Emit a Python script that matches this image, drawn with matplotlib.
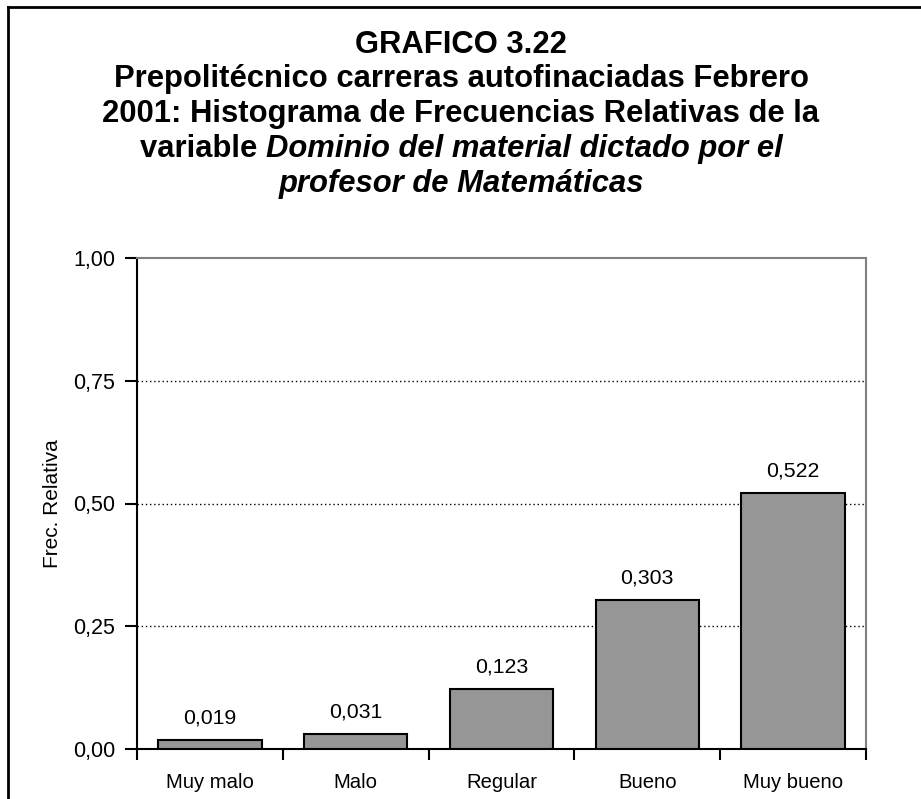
import matplotlib
matplotlib.use("Agg")
import matplotlib.pyplot as plt
from matplotlib.ticker import FixedLocator, FuncFormatter

# datos
categorias = ["Muy malo", "Malo", "Regular", "Bueno", "Muy bueno"]
frecuencias = [0.019, 0.031, 0.123, 0.303, 0.522]
etiquetas = ["0,019", "0,031", "0,123", "0,303", "0,522"]
yticks = [0.0, 0.25, 0.5, 0.75, 1.0]

plt.rcParams["font.family"] = ["Liberation Sans", "DejaVu Sans"]

W, H = 921, 799
fig = plt.figure(figsize=(W / 100, H / 100), dpi=100)

# area del grafico (en pixeles)
left, right, top, bottom = 137, 866, 258, 749
ax = fig.add_axes([left / W, 1 - bottom / H, (right - left) / W, (bottom - top) / H])

x = list(range(len(categorias)))
ax.bar(x, frecuencias, width=0.71, color="#969696", edgecolor="black", linewidth=1.5, zorder=3)

for xi, v, lab in zip(x, frecuencias, etiquetas):
    ax.annotate(lab, (xi, v), xytext=(0, 9), textcoords="offset points",
                ha="center", va="bottom", fontsize=15.3)

ax.set_xlim(-0.5, len(categorias) - 0.5)
ax.set_ylim(0, 1)
ax.yaxis.set_major_locator(FixedLocator(yticks))
ax.yaxis.set_major_formatter(FuncFormatter(lambda v, p: f"{v:.2f}".replace(".", ",")))
ax.tick_params(axis="y", direction="out", length=9, width=1.5, labelsize=15.5, pad=6.5)

# ticks del eje x en los limites de categorias, etiquetas al centro
ax.set_xticks([i - 0.5 for i in range(len(categorias) + 1)])
ax.set_xticklabels([])
ax.set_xticks(x, minor=True)
ax.set_xticklabels(categorias, minor=True, fontsize=14.6)
ax.tick_params(axis="x", which="major", direction="out", length=8, width=1.5)
ax.tick_params(axis="x", which="minor", length=0, pad=17)

for yv in yticks[1:-1]:
    ax.axhline(yv, color="black", linestyle=(0, (1, 2)), linewidth=1, zorder=1)

ax.spines["left"].set_linewidth(1.5)
ax.spines["bottom"].set_linewidth(1.5)
ax.spines["top"].set_color("#808080")
ax.spines["right"].set_color("#808080")
ax.spines["top"].set_linewidth(1.5)
ax.spines["right"].set_linewidth(1.5)

fig.text(53 / W, 1 - 504 / H, "Frec. Relativa", rotation=90, ha="center", va="center", fontsize=15)

# titulo con partes en cursiva
fig.canvas.draw()
renderer = fig.canvas.get_renderer()


def linea(y_px, partes, size=22.3):
    textos = []
    ancho = 0
    for s, estilo in partes:
        t = fig.text(0, 1 - y_px / H, s, fontsize=size, fontweight="bold", style=estilo,
                     ha="left", va="baseline")
        w = t.get_window_extent(renderer).width
        textos.append((t, w))
        ancho += w
    x0 = 461 - ancho / 2
    for t, w in textos:
        t.set_x(x0 / W)
        x0 += w


linea(53, [("GRAFICO 3.22", "normal")])
linea(87, [("Prepolitécnico carreras autofinaciadas Febrero", "normal")])
linea(122, [("2001: ", "normal"), ("Histograma de Frecuencias Relativas de la", "normal")])
linea(157, [("variable ", "normal"), ("Dominio del material dictado por el", "italic")])
linea(192, [("profesor de Matemáticas", "italic")])

# marco de la figura (solo arriba e izquierda visibles)
fig.add_artist(plt.Line2D([8 / W, 8 / W], [0, 1 - 7 / H], color="black", linewidth=2, transform=fig.transFigure))
fig.add_artist(plt.Line2D([8 / W, 1], [1 - 7 / H, 1 - 7 / H], color="black", linewidth=2, transform=fig.transFigure))

fig.savefig("out.png", dpi=100)
